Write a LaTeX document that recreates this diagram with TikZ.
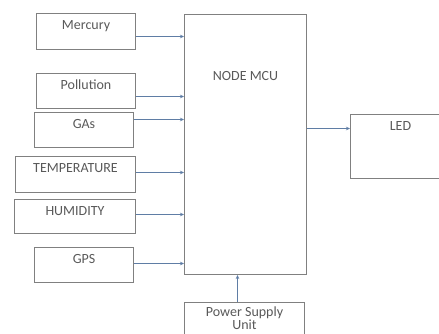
\documentclass[tikz,border=0pt]{standalone}
\usepackage{fontspec}
\setmainfont{Carlito}
\usetikzlibrary{arrows.meta}

\begin{document}
\begin{tikzpicture}[x=1pt, y=-1pt, font=\fontsize{14}{14}\selectfont, >={Stealth[length=4pt, width=3.5pt]}]
	% --- Styles ---
	\definecolor{wire}{RGB}{95,125,165}
	\tikzset{
		box/.style={draw=black!50, line width=1pt, rectangle, anchor=north west, inner sep=0pt},
		txt/.style={anchor=north, text=black!65, inner sep=7pt, align=center},
		conn/.style={->, draw=wire, line width=0.6pt}
	}
	\useasboundingbox (0,0) rectangle (439,333);
	\clip (0,0) rectangle (439,333);
	% --- Sensors (left column) ---
	\foreach \n/\x/\y/\w/\h/\t in {mercury/36/13/99/36/Mercury, pollution/36/73/99/35/Pollution, gas/34/112/99/35/GAs, temp/15/156/120/36/TEMPERATURE, humid/14/199/121/34/HUMIDITY, gps/34/247/99/35/GPS}
	\node[box, minimum width=\w, minimum height=\h, label={[txt]north:\t}] (\n) at (\x,\y) {};
	% --- Controller, output and supply ---
	\node[box, minimum width=122, minimum height=260, label={[txt, yshift=-50pt]north:NODE MCU}] (mcu) at (184,14) {};
	\node[box, minimum width=100, minimum height=64, label={[txt]north:LED}] (led) at (350,114) {};
	\node[box, minimum width=120, minimum height=40, label={[txt, inner sep=5pt, font=\fontsize{14}{13}\selectfont]north:Power Supply\\Unit}] (power) at (184,302) {};
	% --- Inputs to the MCU ---
	\foreach \n/\dy in {mercury/5, pollution/5.5, gas/-10.5, temp/-2, humid/-2, gps/-1.5}
	\draw[conn] ([yshift=-\dy pt]\n.east) -- ([yshift=-\dy pt]\n.east -| mcu.west);
	% --- Output and supply ---
	\draw[conn] ([yshift=18pt]led.west -| mcu.east) -- ([yshift=18pt]led.west);
	\draw[conn] ([xshift=-7pt]power.north) -- ([xshift=-7pt]power.north |- mcu.south);
\end{tikzpicture}
\end{document}
